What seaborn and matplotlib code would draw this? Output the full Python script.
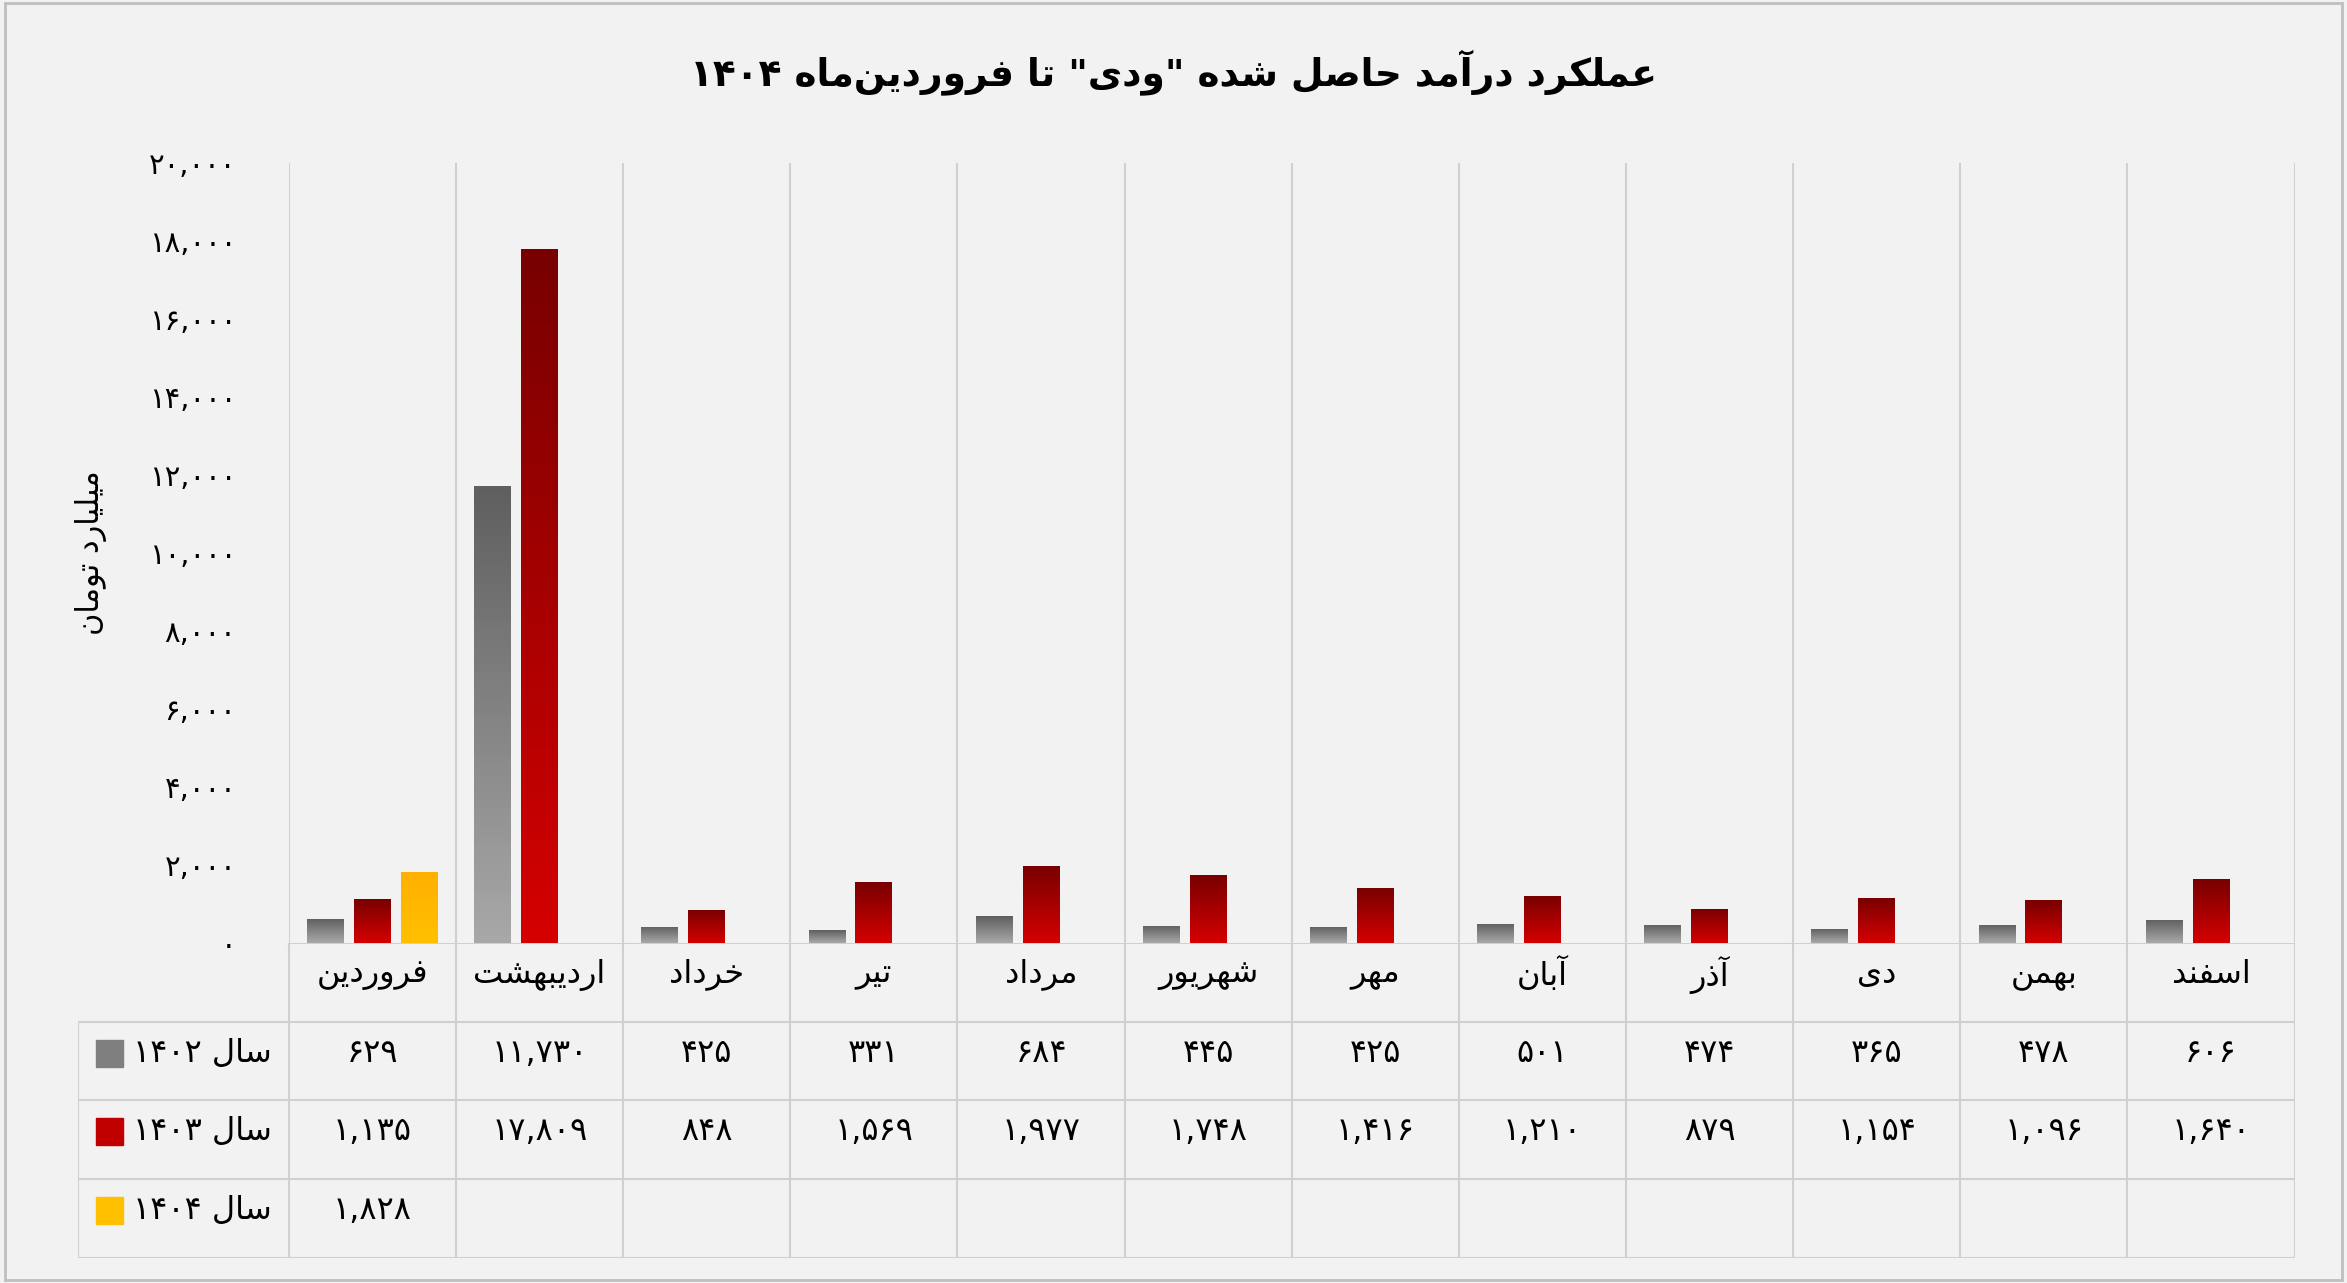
import numpy as np
import pandas as pd
import matplotlib
matplotlib.use("Agg")
import matplotlib.pyplot as plt
import seaborn as sns
from matplotlib.colors import LinearSegmentedColormap

months = ["فروردین", "اردیبهشت", "خرداد", "تیر", "مرداد", "شهریور",
          "مهر", "آبان", "آذر", "دی", "بهمن", "اسفند"]
series = ["سال ۱۴۰۲", "سال ۱۴۰۳", "سال ۱۴۰۴"]
y1402 = [629, 11730, 425, 331, 684, 445, 425, 501, 474, 365, 478, 606]
y1403 = [1135, 17809, 848, 1569, 1977, 1748, 1416, 1210, 879, 1154, 1096, 1640]
y1404 = [1828, None, None, None, None, None, None, None, None, None, None, None]
yticks = [0, 2000, 4000, 6000, 8000, 10000, 12000, 14000, 16000, 18000, 20000]
title = 'عملکرد درآمد حاصل شده "ودی" تا فروردین‌ماه ۱۴۰۴'
ylabel = "میلیارد تومان"
colors = ["#7f7f7f", "#c00000", "#ffc000"]
# (top colour, bottom colour)
grads = [("#5f5f5f", "#a8a8a8"), ("#780000", "#d40000"), ("#ffb000", "#ffc000")]

# --- minimal Arabic/Persian shaping (matplotlib has no RTL shaping) ---
FORMS = {
    "ا": ("\uFE8D", "\uFE8E"), "آ": ("\uFE81", "\uFE82"),
    "د": ("\uFEA9", "\uFEAA"), "ذ": ("\uFEAB", "\uFEAC"),
    "ر": ("\uFEAD", "\uFEAE"), "ز": ("\uFEAF", "\uFEB0"),
    "و": ("\uFEED", "\uFEEE"),
    "ب": ("\uFE8F", "\uFE90", "\uFE91", "\uFE92"),
    "ت": ("\uFE95", "\uFE96", "\uFE97", "\uFE98"),
    "ح": ("\uFEA1", "\uFEA2", "\uFEA3", "\uFEA4"),
    "خ": ("\uFEA5", "\uFEA6", "\uFEA7", "\uFEA8"),
    "س": ("\uFEB1", "\uFEB2", "\uFEB3", "\uFEB4"),
    "ش": ("\uFEB5", "\uFEB6", "\uFEB7", "\uFEB8"),
    "ص": ("\uFEB9", "\uFEBA", "\uFEBB", "\uFEBC"),
    "ع": ("\uFEC9", "\uFECA", "\uFECB", "\uFECC"),
    "ف": ("\uFED1", "\uFED2", "\uFED3", "\uFED4"),
    "ل": ("\uFEDD", "\uFEDE", "\uFEDF", "\uFEE0"),
    "م": ("\uFEE1", "\uFEE2", "\uFEE3", "\uFEE4"),
    "ن": ("\uFEE5", "\uFEE6", "\uFEE7", "\uFEE8"),
    "ه": ("\uFEE9", "\uFEEA", "\uFEEB", "\uFEEC"),
    "ک": ("\uFB8E", "\uFB8F", "\uFB90", "\uFB91"),
    "ی": ("\uFBFC", "\uFBFD", "\uFBFE", "\uFBFF"),
}


def shape(s):
    out = []
    for i, c in enumerate(s):
        if c not in FORMS:
            if c != "\u200c":
                out.append(c)
            continue
        prev = s[i - 1] if i > 0 else ""
        nxt = s[i + 1] if i + 1 < len(s) else ""
        jp = prev in FORMS and len(FORMS[prev]) == 4
        jn = len(FORMS[c]) == 4 and nxt in FORMS
        f = FORMS[c]
        if jp and jn:
            out.append(f[3])
        elif jp:
            out.append(f[1])
        elif jn:
            out.append(f[2])
        else:
            out.append(f[0])
    # visual reorder: runs of digits stay LTR, the rest reversed
    runs, cur, isnum = [], "", None
    for c in out:
        n = c.isdigit() or c in ",."
        if isnum is None or n == isnum:
            cur += c
        else:
            runs.append((cur, isnum))
            cur = c
        isnum = n
    runs.append((cur, isnum))
    return "".join(r if n else r[::-1] for r, n in reversed(runs))


def fa(n):
    return f"{n:,}".translate(str.maketrans("0123456789", "۰۱۲۳۴۵۶۷۸۹"))


rows = []
for s, vals in zip(series, [y1402, y1403, y1404]):
    for m, v in zip(months, vals):
        rows.append({"month": m, "series": s, "value": v})
df = pd.DataFrame(rows)

plt.rcParams["font.family"] = "DejaVu Sans"
W, H = 1568, 857
fig = plt.figure(figsize=(23.47, 12.83), dpi=100, facecolor="#f2f2f2")
ax = fig.add_axes([193 / W, 1 - 630 / H, 1340 / W, 521 / H])
ax.set_facecolor("#f2f2f2")

sns.barplot(data=df, x="month", y="value", hue="series", palette=colors,
            width=0.84, gap=0.21, ax=ax, legend=False, saturation=1)

# vertical gradient fill on each bar
for cont, (c_top, c_bot) in zip(ax.containers, grads):
    cmap = LinearSegmentedColormap.from_list("g", [c_bot, c_top])
    for p in cont.patches:
        h = p.get_height()
        if not np.isfinite(h) or h <= 0:
            continue
        x0, w = p.get_x(), p.get_width()
        im = ax.imshow(np.linspace(1, 0, 64).reshape(-1, 1), cmap=cmap,
                       aspect="auto", extent=[x0, x0 + w, 0, h], zorder=p.get_zorder())
        im.set_clip_path(p)
ax.set_xlim(-0.5, 11.5)
ax.set_ylim(0, 20000)
ax.set_aspect("auto")

ax.set_yticks(yticks)
ax.set_yticklabels([fa(t) for t in yticks], fontsize=21)
ax.tick_params(axis="y", length=0, pad=38)
ax.set_xticks([])
ax.set_xlabel("")
ax.set_ylabel(shape(ylabel), fontsize=22, labelpad=30)
for sp in ax.spines.values():
    sp.set_visible(False)
for b in np.arange(-0.5, 12, 1):
    ax.axvline(b, color="#d0d0d0", lw=1.5, zorder=0)

# data table
left_ext = 141 / (1340 / 12)
tax = fig.add_axes([52 / W, 1 - 840 / H, 1481 / W, 210 / H])
tax.set_xlim(-0.5 - left_ext, 11.5)
tax.set_ylim(4, 0)
tax.axis("off")
for y in range(5):
    x0 = -0.5 if y == 0 else -0.5 - left_ext
    tax.plot([x0, 11.5], [y, y], color="#d0d0d0", lw=1.5)
for b in np.arange(-0.5, 12, 1):
    tax.plot([b, b], [0, 4], color="#d0d0d0", lw=1.5)
tax.plot([-0.5 - left_ext] * 2, [1, 4], color="#d0d0d0", lw=1.5)
for i, m in enumerate(months):
    tax.text(i, 0.4, shape(m), ha="center", va="center", fontsize=23)
for r, (s, vals, c) in enumerate(zip(series, [y1402, y1403, y1404], colors)):
    y = r + 1.4
    tax.add_patch(plt.Rectangle((-0.5 - left_ext + 0.11, y - 0.17), 0.16, 0.34,
                                color=c))
    tax.text(-0.5 - left_ext + 0.33, y, shape(s), ha="left", va="center",
             fontsize=23)
    for i, v in enumerate(vals):
        if v is not None:
            tax.text(i, y, fa(v), ha="center", va="center", fontsize=23)

fig.text(0.5, 1 - 48 / H, shape(title), ha="center", va="center",
         fontsize=27, fontweight="bold")
fig.add_artist(plt.Rectangle((0.002, 0.002), 0.996, 0.996, fill=False,
                             ec="#bfbfbf", lw=2, transform=fig.transFigure))
fig.savefig("out.png", dpi=100, facecolor=fig.get_facecolor())
